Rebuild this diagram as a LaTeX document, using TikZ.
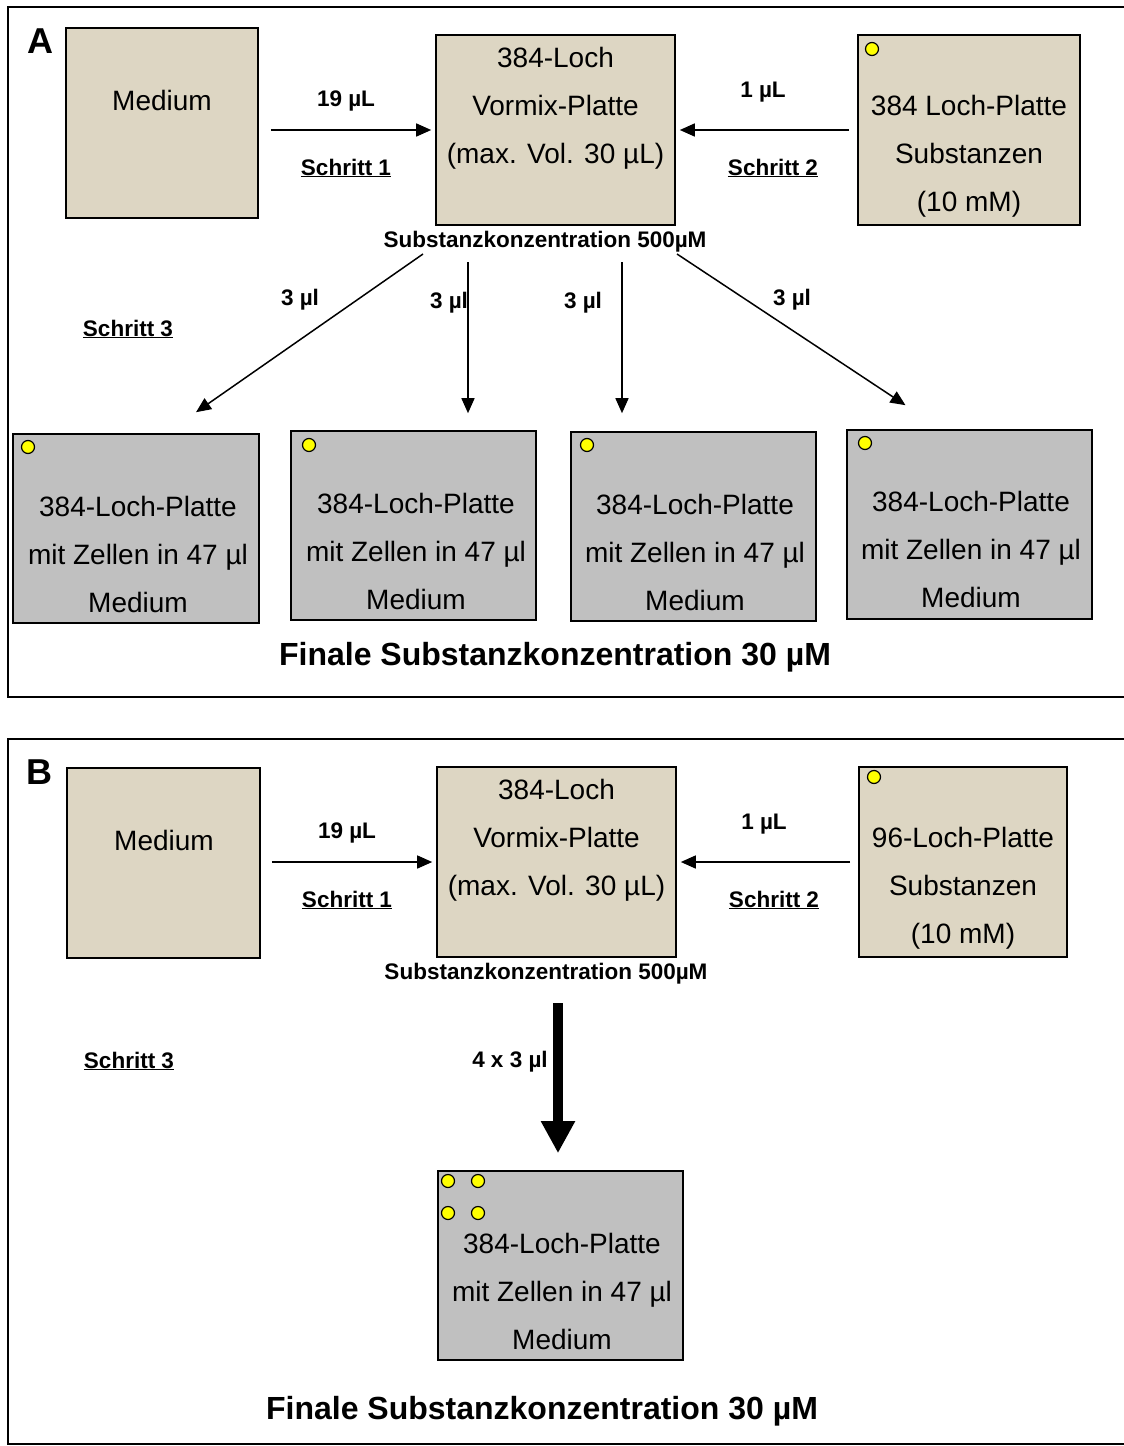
\documentclass[tikz,border=0pt]{standalone}
\usepackage{fontspec}
\setmainfont{Liberation Sans}
\usetikzlibrary{arrows.meta}
\definecolor{beige}{HTML}{DDD6C3}
\definecolor{plategray}{HTML}{C0C0C0}
\definecolor{dotyellow}{HTML}{FFFF00}
\begin{document}
\begin{tikzpicture}[x=1pt,y=-1pt,
  frame/.style={draw=black,line width=1.6pt},
  bplate/.style={draw=black,line width=1.6pt,fill=beige,inner sep=0pt},
  gplate/.style={draw=black,line width=1.6pt,fill=plategray,inner sep=0pt},
  btext/.style={font=\fontsize{28}{48}\selectfont,align=center,inner sep=0pt,text=black},
  lab/.style={font=\fontsize{22.5}{26}\selectfont\bfseries,inner sep=0pt},
  big/.style={font=\fontsize{32}{36}\selectfont\bfseries,inner sep=0pt},
  letter/.style={font=\fontsize{36}{40}\selectfont\bfseries,inner sep=0pt},
  arr/.style={-{Triangle[length=15pt,width=13pt]},line width=1.5pt},
  dot/.style={circle,draw=black,line width=1.2pt,fill=dotyellow,minimum size=13pt,inner sep=0pt}
]
\useasboundingbox (0,0) rectangle (1124,1446);
\clip (0,0) rectangle (1124,1446);
\fill[white] (0,0) rectangle (1124,1446);

% ---------------- Panel A ----------------
\draw[frame] (1140,7) -- (8,7) -- (8,697) -- (1140,697);
\node[letter] (la) at (40,41) {A};

\node[bplate,minimum width=192pt,minimum height=190pt] (amed) at (162,123) {};
\node[btext] (amedt) at (162,100) {Medium};
\node[bplate,minimum width=239pt,minimum height=190pt] (avor) at (555.5,130) {};
\node[btext] (avort) at (555.5,108) {384-Loch\\Vormix-Platte\\(max. Vol. 30 µL)};
\node[bplate,minimum width=222pt,minimum height=190pt] (asub) at (969,130) {};
\node[dot] (asubd) at (872,49) {};
\node[btext] (asubt) at (969,156) {384 Loch-Platte\\Substanzen\\(10 mM)};

\draw[arr] ([xshift=12pt]amed.east |- 0,130) -- ([xshift=-4pt]avor.west);
\draw[arr] ([xshift=-8pt]asub.west) -- ([xshift=4pt]avor.east);
\node[lab] (a19) at (346,101) {19 µL};
\node[lab] (as1) at (346,168) {\underline{Schritt 1}};
\node[lab] (a1) at (763,92) {1 µL};
\node[lab] (as2) at (773,168) {\underline{Schritt 2}};
\node[lab] (akonz) at (545,242) {Substanzkonzentration 500µM};

\node[gplate,minimum width=246pt,minimum height=189pt] (ap1) at (136,528.5) {};
\node[dot] (ap1d) at (28,447) {};
\node[btext] (ap1t) at (138,554) {384-Loch-Platte\\mit Zellen in 47 µl\\Medium};
\node[gplate,minimum width=245pt,minimum height=189pt] (ap2) at (413.5,525.5) {};
\node[dot] (ap2d) at (309,445) {};
\node[btext] (ap2t) at (416,551) {384-Loch-Platte\\mit Zellen in 47 µl\\Medium};
\node[gplate,minimum width=245pt,minimum height=189pt] (ap3) at (693.5,526.5) {};
\node[dot] (ap3d) at (587,445) {};
\node[btext] (ap3t) at (695,552) {384-Loch-Platte\\mit Zellen in 47 µl\\Medium};
\node[gplate,minimum width=245pt,minimum height=189pt] (ap4) at (969.5,524.5) {};
\node[dot] (ap4d) at (865,443) {};
\node[btext] (ap4t) at (971,549) {384-Loch-Platte\\mit Zellen in 47 µl\\Medium};

\coordinate (s1) at (423,254);
\coordinate (s2) at (468,262);
\coordinate (s3) at (622,262);
\coordinate (s4) at (677,254);
\draw[arr] (s1) -- ([xshift=60pt,yshift=21pt]ap1.north);
\draw[arr] (s2) -- ([yshift=17pt]ap2.north -| s2);
\draw[arr] (s3) -- ([yshift=18pt]ap3.north -| s3);
\draw[arr] (s4) -- ([xshift=-64pt,yshift=24pt]ap4.north);
\node[lab] (a3a) at (300,300) {3 µl};
\node[lab] (a3b) at (449,303) {3 µl};
\node[lab] (a3c) at (583,303) {3 µl};
\node[lab] (a3d) at (792,300) {3 µl};
\node[lab] (as3) at (128,329) {\underline{Schritt 3}};
\node[big] (afin) at (555,657) {Finale Substanzkonzentration 30 µM};

% ---------------- Panel B ----------------
\draw[frame] (1140,739) -- (8,739) -- (8,1444) -- (1140,1444);
\node[letter] (lb) at (39,772) {B};

\node[bplate,minimum width=193pt,minimum height=190pt] (bmed) at (163.5,863) {};
\node[btext] (bmedt) at (164,840) {Medium};
\node[bplate,minimum width=239pt,minimum height=190pt] (bvor) at (556.5,862) {};
\node[btext] (bvort) at (556.5,840) {384-Loch\\Vormix-Platte\\(max. Vol. 30 µL)};
\node[bplate,minimum width=208pt,minimum height=190pt] (bsub) at (963,862) {};
\node[dot] (bsubd) at (874,777) {};
\node[btext] (bsubt) at (963,888) {96-Loch-Platte\\Substanzen\\(10 mM)};

\draw[arr] ([xshift=11pt]bmed.east |- 0,862) -- ([xshift=-4pt]bvor.west);
\draw[arr] ([xshift=-8pt]bsub.west) -- ([xshift=4pt]bvor.east);
\node[lab] (b19) at (347,833) {19 µL};
\node[lab] (bs1) at (347,900) {\underline{Schritt 1}};
\node[lab] (b1) at (764,824) {1 µL};
\node[lab] (bs2) at (774,900) {\underline{Schritt 2}};
\node[lab] (bkonz) at (546,974) {Substanzkonzentration 500µM};

\node[gplate,minimum width=245pt,minimum height=189pt] (bp) at (560.5,1265.5) {};
\node[dot] at (448,1181) {};
\node[dot] at (478,1181) {};
\node[dot] at (448,1213) {};
\node[dot] at (478,1213) {};
\node[btext] (bpt) at (562,1291) {384-Loch-Platte\\mit Zellen in 47 µl\\Medium};

\coordinate (bs) at (558,1003);
\draw[-{Triangle[length=32pt,width=32pt]},line width=10pt] (bs) -- ([yshift=17pt]bp.north -| bs);
\node[lab] (b43) at (510,1062) {4 x 3 µl};
\node[lab] (bs3) at (129,1061) {\underline{Schritt 3}};
\node[big] (bfin) at (542,1411) {Finale Substanzkonzentration 30 µM};
\end{tikzpicture}
\end{document}
